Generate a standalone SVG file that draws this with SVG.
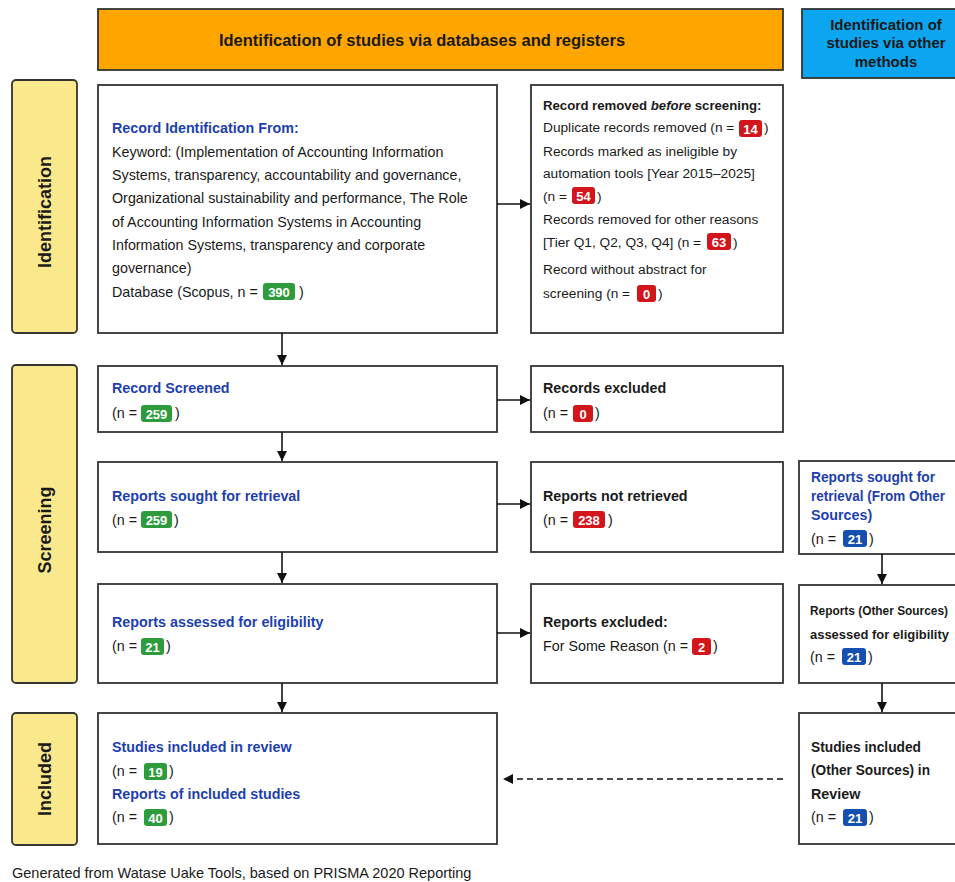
<svg xmlns="http://www.w3.org/2000/svg" width="955" height="882" viewBox="0 0 955 882">
<defs>
<marker id="ah" viewBox="0 0 10 10" refX="10" refY="5" markerWidth="10" markerHeight="10" markerUnits="userSpaceOnUse" orient="auto">
<path d="M0,0 L10,5 L0,10 z" fill="#111"/>
</marker>
</defs>
<style>
text{font-family:"Liberation Sans",Arial,sans-serif;fill:#1a1a1a}
.box{fill:#fff;stroke:#333;stroke-width:1.8}
.side{fill:#FAE98C;stroke:#333;stroke-width:1.8}
.sidet{font-size:18px;font-weight:bold;text-anchor:middle}
.hdr{font-size:15px;font-weight:bold;text-anchor:middle}
.hdr2{font-size:16.5px;font-weight:bold;text-anchor:middle}
.t{font-size:14.3px}
.t2{font-size:13.7px}
.tb{font-size:14.3px;font-weight:bold;fill:#1D3FAE}
.tk{font-size:14.3px;font-weight:bold}
.tks{font-size:13.2px;font-weight:bold}
.bg{fill:#2E9B3C}
.br{fill:#D3151C}
.bb{fill:#1550B0}
.bt{font-size:13px;font-weight:bold;fill:#fff;text-anchor:middle}
.conn{stroke:#111;stroke-width:1.6;fill:none}
.foot{font-size:14.5px}
</style>

<!-- headers -->
<g id="hdr-db">
<rect x="98" y="9" width="685" height="61" fill="#FFA500" stroke="#333" stroke-width="1.8"/>
<text class="hdr2" x="422" y="46">Identification of studies via databases and registers</text>
</g>
<g id="hdr-other">
<rect x="802" y="9" width="165" height="69" fill="#0BA5F0" stroke="#333" stroke-width="1.8"/>
<text class="hdr" x="886" y="30">Identification of</text>
<text class="hdr" x="886" y="48">studies via other</text>
<text class="hdr" x="886" y="67">methods</text>
</g>

<!-- side labels -->
<g id="side-identification">
<rect class="side" x="12" y="80" width="65" height="253" rx="4"/>
<text class="sidet" transform="translate(51,212) rotate(-90)">Identification</text>
</g>
<g id="side-screening">
<rect class="side" x="12" y="365" width="65" height="318" rx="4"/>
<text class="sidet" transform="translate(51,530) rotate(-90)">Screening</text>
</g>
<g id="side-included">
<rect class="side" x="12" y="713" width="65" height="132" rx="4"/>
<text class="sidet" transform="translate(51,779) rotate(-90)">Included</text>
</g>

<!-- identification -->
<g id="n-identified">
<rect class="box" x="98" y="85" width="399" height="248"/>
<text class="tb" x="112" y="133">Record Identification From:</text>
<text class="t" x="112" y="157">Keyword: (Implementation of Accounting Information</text>
<text class="t" x="112" y="180">Systems, transparency, accountability and governance,</text>
<text class="t" x="112" y="203">Organizational sustainability and performance, The Role</text>
<text class="t" x="112" y="227">of Accounting Information Systems in Accounting</text>
<text class="t" x="112" y="250">Information Systems, transparency and corporate</text>
<text class="t" x="112" y="273">governance)</text>
<text class="t" x="112" y="297">Database (Scopus, n = </text>
<rect class="bg" x="263" y="283" width="32" height="17" rx="3"/>
<text class="bt" x="279" y="296.5">390</text>
<text class="t" x="299" y="297">)</text>
</g>
<g id="n-removed">
<rect class="box" x="531" y="85" width="252" height="248"/>
<text class="tks" x="543" y="110">Record removed <tspan font-style="italic">before</tspan> screening:</text>
<text class="t2" x="543" y="132">Duplicate records removed (n = </text>
<rect class="br" x="739" y="120" width="23" height="17" rx="3"/>
<text class="bt" x="750.5" y="133.5">14</text>
<text class="t2" x="764" y="132">)</text>
<text class="t2" x="543" y="156">Records marked as ineligible by</text>
<text class="t2" x="543" y="178">automation tools [Year 2015–2025]</text>
<text class="t2" x="543" y="201">(n = </text>
<rect class="br" x="572" y="187" width="23" height="17" rx="3"/>
<text class="bt" x="583.5" y="200.5">54</text>
<text class="t2" x="597" y="201">)</text>
<text class="t2" x="543" y="224">Records removed for other reasons</text>
<text class="t2" x="543" y="247">[Tier Q1, Q2, Q3, Q4] (n = </text>
<rect class="br" x="707" y="233" width="24" height="17" rx="3"/>
<text class="bt" x="719" y="246.5">63</text>
<text class="t2" x="733" y="247">)</text>
<text class="t2" x="543" y="274">Record without abstract for</text>
<text class="t2" x="543" y="298">screening (n = </text>
<rect class="br" x="637" y="285" width="19" height="17" rx="3"/>
<text class="bt" x="646.5" y="298.5">0</text>
<text class="t2" x="658" y="298">)</text>
</g>

<!-- screening -->
<g id="n-screened">
<rect class="box" x="98" y="366" width="399" height="66"/>
<text class="tb" x="112" y="393">Record Screened</text>
<text class="t" x="112" y="418">(n = </text>
<rect class="bg" x="141" y="405" width="31" height="17" rx="3"/>
<text class="bt" x="156.5" y="418.5">259</text>
<text class="t" x="175" y="418">)</text>
</g>
<g id="n-excluded">
<rect class="box" x="531" y="366" width="252" height="66"/>
<text class="tk" x="543" y="393">Records excluded</text>
<text class="t" x="543" y="418">(n = </text>
<rect class="br" x="573" y="405" width="20" height="17" rx="3"/>
<text class="bt" x="583" y="418.5">0</text>
<text class="t" x="595" y="418">)</text>
</g>
<g id="n-sought">
<rect class="box" x="98" y="462" width="399" height="90"/>
<text class="tb" x="112" y="501">Reports sought for retrieval</text>
<text class="t" x="112" y="525">(n = </text>
<rect class="bg" x="141" y="511" width="31" height="17" rx="3"/>
<text class="bt" x="156.5" y="524.5">259</text>
<text class="t" x="174" y="525">)</text>
</g>
<g id="n-notretrieved">
<rect class="box" x="531" y="462" width="252" height="90"/>
<text class="tk" x="543" y="501">Reports not retrieved</text>
<text class="t" x="543" y="525">(n = </text>
<rect class="br" x="573" y="511" width="32" height="17" rx="3"/>
<text class="bt" x="589" y="524.5">238</text>
<text class="t" x="608" y="525">)</text>
</g>
<g id="n-other-sought">
<rect class="box" x="799" y="461" width="170" height="93"/>
<text class="tb" x="811" y="482" textLength="124" lengthAdjust="spacingAndGlyphs">Reports sought for</text>
<text class="tb" x="811" y="501" textLength="134" lengthAdjust="spacingAndGlyphs">retrieval (From Other</text>
<text class="tb" x="811" y="520">Sources)</text>
<text class="t" x="811" y="544">(n = </text>
<rect class="bb" x="843" y="530" width="24" height="17" rx="3"/>
<text class="bt" x="855" y="543.5">21</text>
<text class="t" x="869" y="544">)</text>
</g>
<g id="n-assessed">
<rect class="box" x="98" y="584" width="399" height="99"/>
<text class="tb" x="112" y="627">Reports assessed for eligibility</text>
<text class="t" x="112" y="651">(n = </text>
<rect class="bg" x="141" y="638" width="23" height="17" rx="3"/>
<text class="bt" x="152.5" y="651.5">21</text>
<text class="t" x="166" y="651">)</text>
</g>
<g id="n-reports-excluded">
<rect class="box" x="531" y="584" width="252" height="99"/>
<text class="tk" x="543" y="627">Reports excluded:</text>
<text class="t" x="543" y="651">For Some Reason (n = </text>
<rect class="br" x="692" y="638" width="19" height="17" rx="3"/>
<text class="bt" x="701.5" y="651.5">2</text>
<text class="t" x="713" y="651">)</text>
</g>
<g id="n-other-assessed">
<rect class="box" x="799" y="585" width="170" height="98"/>
<text class="tks" x="810" y="615" font-size="12.6" textLength="138" lengthAdjust="spacingAndGlyphs">Reports (Other Sources)</text>
<text class="tks" x="810" y="639" textLength="139" lengthAdjust="spacingAndGlyphs">assessed for eligibility</text>
<text class="t" x="810" y="662">(n = </text>
<rect class="bb" x="842" y="648" width="24" height="17" rx="3"/>
<text class="bt" x="854" y="661.5">21</text>
<text class="t" x="868" y="662">)</text>
</g>

<!-- included -->
<g id="n-included">
<rect class="box" x="98" y="713" width="399" height="131"/>
<text class="tb" x="112" y="752">Studies included in review</text>
<text class="t" x="112" y="776">(n = </text>
<rect class="bg" x="144" y="763" width="23" height="17" rx="3"/>
<text class="bt" x="155.5" y="776.5">19</text>
<text class="t" x="169" y="776">)</text>
<text class="tb" x="112" y="799">Reports of included studies</text>
<text class="t" x="112" y="822">(n = </text>
<rect class="bg" x="144" y="809" width="23" height="17" rx="3"/>
<text class="bt" x="155.5" y="822.5">40</text>
<text class="t" x="169" y="822">)</text>
</g>
<g id="n-other-included">
<rect class="box" x="799" y="713" width="170" height="131"/>
<text class="tk" x="811" y="752" textLength="110" lengthAdjust="spacingAndGlyphs">Studies included</text>
<text class="tk" x="811" y="775" textLength="119" lengthAdjust="spacingAndGlyphs">(Other Sources) in</text>
<text class="tk" x="811" y="799">Review</text>
<text class="t" x="811" y="822">(n = </text>
<rect class="bb" x="843" y="809" width="24" height="17" rx="3"/>
<text class="bt" x="855" y="822.5">21</text>
<text class="t" x="869" y="822">)</text>
</g>

<!-- connectors -->
<g id="connectors">
<line class="conn" x1="497" y1="204" x2="530" y2="204" marker-end="url(#ah)"/>
<line class="conn" x1="497" y1="400" x2="530" y2="400" marker-end="url(#ah)"/>
<line class="conn" x1="497" y1="504" x2="530" y2="504" marker-end="url(#ah)"/>
<line class="conn" x1="497" y1="633" x2="530" y2="633" marker-end="url(#ah)"/>
<line class="conn" x1="282" y1="333" x2="282" y2="365" marker-end="url(#ah)"/>
<line class="conn" x1="282" y1="432" x2="282" y2="461" marker-end="url(#ah)"/>
<line class="conn" x1="282" y1="552" x2="282" y2="583" marker-end="url(#ah)"/>
<line class="conn" x1="282" y1="683" x2="282" y2="712" marker-end="url(#ah)"/>
<line class="conn" x1="882" y1="554" x2="882" y2="584" marker-end="url(#ah)"/>
<line class="conn" x1="882" y1="683" x2="882" y2="712" marker-end="url(#ah)"/>
<line class="conn" x1="783" y1="779" x2="503" y2="779" stroke-dasharray="6,4" marker-end="url(#ah)"/>
</g>

<text class="foot" x="12" y="878">Generated from Watase Uake Tools, based on PRISMA 2020 Reporting</text>
</svg>
